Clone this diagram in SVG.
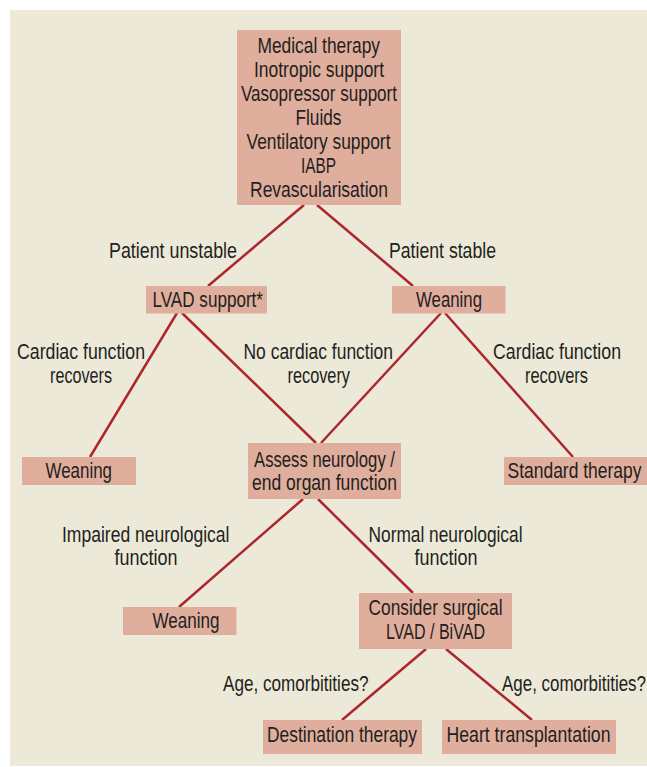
<svg xmlns="http://www.w3.org/2000/svg" width="647" height="767" viewBox="0 0 647 767">
<style>
.bg{fill:#ECE9D9}
.box{fill:#E0AE9C}
.t{font-family:"Liberation Sans",Arial,sans-serif;font-size:17.5px;fill:#231F20}
.c{stroke:#AD262B;stroke-width:2.5;fill:none}
</style>
<rect class="bg" x="10" y="10" width="637" height="756"/>
<g id="connectors">
<line class="c" x1="304" y1="205" x2="208" y2="286"/>
<line class="c" x1="317" y1="205" x2="413" y2="286"/>
<line class="c" x1="177" y1="313" x2="90" y2="457"/>
<line class="c" x1="182" y1="313" x2="316" y2="443"/>
<line class="c" x1="441" y1="313" x2="321" y2="443"/>
<line class="c" x1="445" y1="313" x2="573" y2="457"/>
<line class="c" x1="303" y1="499" x2="179" y2="607"/>
<line class="c" x1="318" y1="499" x2="413" y2="593"/>
<line class="c" x1="426" y1="649" x2="342" y2="720"/>
<line class="c" x1="446" y1="649" x2="532" y2="720"/>
</g>
<g id="edge-labels">
<text class="t" transform="translate(109,258) scale(1,1.286)" textLength="128" lengthAdjust="spacingAndGlyphs">Patient unstable</text>
<text class="t" transform="translate(389,258) scale(1,1.286)" textLength="107" lengthAdjust="spacingAndGlyphs">Patient stable</text>
<text class="t" transform="translate(17,359) scale(1,1.286)" textLength="128" lengthAdjust="spacingAndGlyphs">Cardiac function</text>
<text class="t" transform="translate(50,383) scale(1,1.286)" textLength="62" lengthAdjust="spacingAndGlyphs">recovers</text>
<text class="t" transform="translate(243.5,359) scale(1,1.286)" textLength="149.5" lengthAdjust="spacingAndGlyphs">No cardiac function</text>
<text class="t" transform="translate(287.5,383) scale(1,1.286)" textLength="62.5" lengthAdjust="spacingAndGlyphs">recovery</text>
<text class="t" transform="translate(493,359) scale(1,1.286)" textLength="128" lengthAdjust="spacingAndGlyphs">Cardiac function</text>
<text class="t" transform="translate(525,383) scale(1,1.286)" textLength="63" lengthAdjust="spacingAndGlyphs">recovers</text>
<text class="t" transform="translate(62,542) scale(1,1.286)" textLength="167.5" lengthAdjust="spacingAndGlyphs">Impaired neurological</text>
<text class="t" transform="translate(114.5,565) scale(1,1.286)" textLength="63" lengthAdjust="spacingAndGlyphs">function</text>
<text class="t" transform="translate(368.5,542) scale(1,1.286)" textLength="154" lengthAdjust="spacingAndGlyphs">Normal neurological</text>
<text class="t" transform="translate(414.5,565) scale(1,1.286)" textLength="63" lengthAdjust="spacingAndGlyphs">function</text>
<text class="t" transform="translate(223,691) scale(1,1.286)" textLength="145.5" lengthAdjust="spacingAndGlyphs">Age, comorbitities?</text>
<text class="t" style="font-size:16.8px" transform="translate(502,691) scale(1,1.339)" textLength="144" lengthAdjust="spacingAndGlyphs">Age, comorbitities?</text>
</g>
<g id="n-medical">
<rect class="box" x="237" y="30" width="164" height="175"/>
<text class="t" transform="translate(257.5,53) scale(1,1.286)" textLength="122.5" lengthAdjust="spacingAndGlyphs">Medical therapy</text>
<text class="t" transform="translate(254,77) scale(1,1.286)" textLength="130" lengthAdjust="spacingAndGlyphs">Inotropic support</text>
<text class="t" transform="translate(241,101) scale(1,1.286)" textLength="156" lengthAdjust="spacingAndGlyphs">Vasopressor support</text>
<text class="t" transform="translate(295.5,125) scale(1,1.286)" textLength="46" lengthAdjust="spacingAndGlyphs">Fluids</text>
<text class="t" transform="translate(246.5,149) scale(1,1.286)" textLength="144" lengthAdjust="spacingAndGlyphs">Ventilatory support</text>
<text class="t" transform="translate(301,173) scale(1,1.286)" textLength="35" lengthAdjust="spacingAndGlyphs">IABP</text>
<text class="t" transform="translate(250,197) scale(1,1.286)" textLength="138" lengthAdjust="spacingAndGlyphs">Revascularisation</text>
</g>
<g id="n-lvad">
<rect class="box" x="146" y="286" width="121" height="27.5"/>
<text class="t" transform="translate(152.5,307) scale(1,1.286)" textLength="110.5" lengthAdjust="spacingAndGlyphs">LVAD support*</text>
</g>
<g id="n-weaning1">
<rect class="box" x="392" y="286" width="113.5" height="27.5"/>
<text class="t" transform="translate(416,307) scale(1,1.286)" textLength="66" lengthAdjust="spacingAndGlyphs">Weaning</text>
</g>
<g id="n-weaning2">
<rect class="box" x="22" y="457" width="114" height="28"/>
<text class="t" transform="translate(45.5,478) scale(1,1.286)" textLength="66.5" lengthAdjust="spacingAndGlyphs">Weaning</text>
</g>
<g id="n-assess">
<rect class="box" x="248" y="443" width="153" height="56"/>
<text class="t" transform="translate(254,467) scale(1,1.286)" textLength="141" lengthAdjust="spacingAndGlyphs">Assess neurology /</text>
<text class="t" transform="translate(252,490) scale(1,1.286)" textLength="145" lengthAdjust="spacingAndGlyphs">end organ function</text>
</g>
<g id="n-standard">
<rect class="box" x="504" y="457" width="143" height="28"/>
<text class="t" transform="translate(507.5,478) scale(1,1.286)" textLength="134" lengthAdjust="spacingAndGlyphs">Standard therapy</text>
</g>
<g id="n-weaning3">
<rect class="box" x="123" y="607" width="113.5" height="28"/>
<text class="t" transform="translate(152.5,628) scale(1,1.286)" textLength="67" lengthAdjust="spacingAndGlyphs">Weaning</text>
</g>
<g id="n-surgical">
<rect class="box" x="359" y="593" width="153" height="56"/>
<text class="t" transform="translate(368.5,615) scale(1,1.286)" textLength="134" lengthAdjust="spacingAndGlyphs">Consider surgical</text>
<text class="t" transform="translate(386,639) scale(1,1.286)" textLength="99" lengthAdjust="spacingAndGlyphs">LVAD / BiVAD</text>
</g>
<g id="n-destination">
<rect class="box" x="263" y="720" width="159" height="34"/>
<text class="t" transform="translate(267,742) scale(1,1.286)" textLength="150" lengthAdjust="spacingAndGlyphs">Destination therapy</text>
</g>
<g id="n-transplant">
<rect class="box" x="442" y="720" width="174" height="34"/>
<text class="t" transform="translate(446.5,742) scale(1,1.286)" textLength="164" lengthAdjust="spacingAndGlyphs">Heart transplantation</text>
</g>
</svg>
